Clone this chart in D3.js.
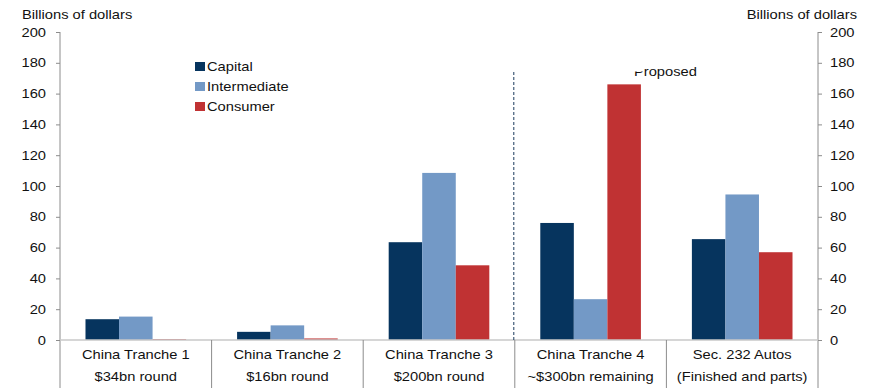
<!DOCTYPE html>
<html><head><meta charset="utf-8">
<script src="https://cdn.jsdelivr.net/npm/d3@7"></script>
<style>body{margin:0;background:#fff}svg{font-family:"Liberation Sans",Arial,sans-serif}</style>
</head><body>
<svg id="c" width="870" height="388"></svg>
<script>
const categories = ["China Tranche 1","China Tranche 2","China Tranche 3","China Tranche 4","Sec. 232 Autos"];
const subLabels = ["$34bn round","$16bn round","$200bn round","~$300bn remaining","(Finished and parts)"];
const seriesNames = ["Capital","Intermediate","Consumer"];
const capital = [13.5, 5.3, 63.5, 76, 65.5];
const intermediate = [15.2, 9.5, 108.5, 26.5, 94.5];
const consumer = [0.5, 1, 48.5, 166, 57];
const yTicks = [0,20,40,60,80,100,120,140,160,180,200];
const colors = ["#06345e","#7399c6","#c03233"];

const svg = d3.select("#c");
const L = 60, R = 818, T = 32, B = 340;
const x = d3.scaleBand().domain(categories).range([L, R]).paddingInner(0).paddingOuter(0);
const xs = d3.scaleBand().domain(seriesNames).range([0, x.bandwidth()]).paddingOuter(0.76).paddingInner(0);
const y = d3.scaleLinear().domain([0, 200]).range([B, T]);
const data = [capital, intermediate, consumer];

// bars
seriesNames.forEach((s, si) => {
  svg.append("g").selectAll("rect").data(categories).join("rect")
    .attr("x", d => x(d) + xs(s))
    .attr("width", xs.bandwidth())
    .attr("y", (d, i) => y(data[si][i]))
    .attr("height", (d, i) => B - y(data[si][i]))
    .attr("fill", colors[si]);
});

// axes
const gray = "#8c8c8c";
const left = svg.append("g").attr("transform", `translate(${L},0)`)
  .call(d3.axisLeft(y).tickValues(yTicks).tickSize(4).tickPadding(10));
const right = svg.append("g").attr("transform", `translate(${R},0)`)
  .call(d3.axisRight(y).tickValues(yTicks).tickSize(4).tickPadding(8));
[left, right].forEach(g => {
  g.select(".domain").remove();
  g.selectAll(".tick line").attr("stroke", gray);
  g.selectAll(".tick text").attr("font-size", 13).attr("fill", "#111");
});
svg.append("line").attr("x1", L).attr("x2", L).attr("y1", T).attr("y2", 388).attr("stroke", gray);
svg.append("line").attr("x1", R).attr("x2", R).attr("y1", T).attr("y2", 388).attr("stroke", gray);
svg.append("line").attr("x1", L).attr("x2", R).attr("y1", B).attr("y2", B).attr("stroke", "#c8c8c8").attr("stroke-width", 1.5);
svg.append("g").selectAll("line").data(categories.slice(1)).join("line")
  .attr("x1", d => x(d)).attr("x2", d => x(d)).attr("y1", B).attr("y2", 388)
  .attr("stroke", gray);
svg.append("g").selectAll("text").data(categories).join("text")
  .attr("x", d => x(d) + x.bandwidth()/2).attr("y", 359)
  .attr("text-anchor", "middle").attr("font-size", 13).attr("fill", "#111").text(d => d);
svg.append("g").selectAll("text").data(subLabels).join("text")
  .attr("x", (d, i) => x(categories[i]) + x.bandwidth()/2).attr("y", 381)
  .attr("text-anchor", "middle").attr("font-size", 13).attr("fill", "#111").text(d => d);

const sepX = x(categories[3]) - 1;
svg.append("line").attr("x1", sepX).attr("x2", sepX).attr("y1", 72).attr("y2", B)
  .attr("stroke", "#1a3a5c").attr("stroke-dasharray", "3,2");

svg.append("text").attr("x", 22).attr("y", 19).attr("font-size", 13).attr("fill", "#111").text("Billions of dollars");
svg.append("text").attr("x", 857).attr("y", 19).attr("text-anchor", "end").attr("font-size", 13).attr("fill", "#111").text("Billions of dollars");

svg.append("text").attr("x", 634).attr("y", 76).attr("font-size", 13).attr("fill", "#111").attr("class","prop").text("Proposed");

const lg = svg.append("g");
seriesNames.forEach((s, i) => {
  lg.append("rect").attr("x", 195).attr("y", 62 + i*20).attr("width", 10).attr("height", 9).attr("fill", colors[i]);
  lg.append("text").attr("x", 207).attr("y", 71 + i*20).attr("font-size", 13).attr("fill", "#111").text(s);
});

// horizontal stretch to match the reference's wider glyphs
svg.selectAll("text").each(function() {
  const len = this.getComputedTextLength();
  d3.select(this).attr("textLength", len * 1.13).attr("lengthAdjust", "spacingAndGlyphs");
});
// partially obscured P of "Proposed"
svg.append("rect").attr("x", 633).attr("y", 62).attr("width", 11).attr("height", 9.5).attr("fill", "#fff");
</script>
</body></html>
